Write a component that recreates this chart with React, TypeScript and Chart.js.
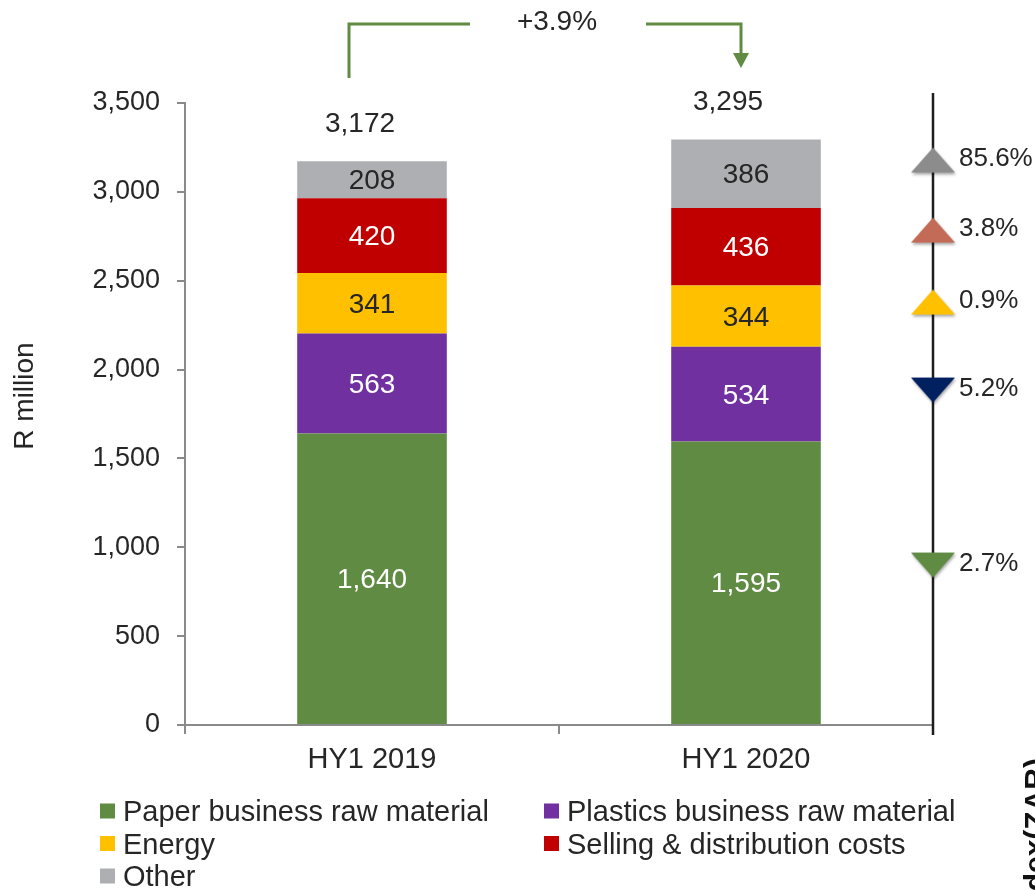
import React, { useEffect, useRef } from 'react';
import { Chart, registerables } from 'chart.js';

Chart.register(...registerables);

// ---------- data ----------
const CATEGORIES = ['HY1 2019', 'HY1 2020'];
const SERIES_NAMES = [
  'Paper business raw material',
  'Plastics business raw material',
  'Energy',
  'Selling & distribution costs',
  'Other',
];
const PAPER = [1640, 1595];
const PLASTICS = [563, 534];
const ENERGY = [341, 344];
const SELLING = [420, 436];
const OTHER = [208, 386];
const Y_MIN = 0;
const Y_MAX = 3500;
const Y_STEP = 500;
const Y_TITLE = 'R million';
const GROWTH_LABEL = '+3.9%';
const MARKER_LABELS = ['85.6%', '3.8%', '0.9%', '5.2%', '2.7%'];
const MARKER_VALUES = [3179, 2785, 2380, 1885, 900];
const MARKER_DIRECTIONS = ['up', 'up', 'up', 'down', 'down'];
const SIDE_TITLE = 'Index(ZAR)';

// ---------- styles ----------
const SERIES = [PAPER, PLASTICS, ENERGY, SELLING, OTHER];
const SERIES_COLORS = ['#5F8B43', '#7030A0', '#FFC000', '#C00000', '#ADAFB2'];
const LABEL_COLORS = ['#FFFFFF', '#FFFFFF', '#262626', '#FFFFFF', '#262626'];
const MARKER_COLORS = ['#8C8C8C', '#C36B56', '#FFC000', '#002060', '#5F8B43'];
const TOTAL_LABEL_DX = [-12, -18];
const TEXT = '#262626';
const AXIS = '#8A8A8A';
const FAMILY = '"Liberation Sans", Arial, Helvetica, sans-serif';
const font = (size: number, weight = 'normal') => `${weight} ${size}px ${FAMILY}`;
const fmt = (n: number) => n.toLocaleString('en-US');

function makeTriangle(color: string, dir: string) {
  const w = 44, h = 25, pad = 5;
  const c = document.createElement('canvas');
  c.width = w + pad * 2;
  c.height = h + pad * 2;
  const g = c.getContext('2d')!;
  g.shadowColor = 'rgba(0,0,0,0.35)';
  g.shadowBlur = 3;
  g.shadowOffsetX = 1;
  g.shadowOffsetY = 2;
  g.fillStyle = color;
  g.beginPath();
  if (dir === 'up') {
    g.moveTo(pad + w / 2, pad);
    g.lineTo(pad + w, pad + h);
    g.lineTo(pad, pad + h);
  } else {
    g.moveTo(pad, pad);
    g.lineTo(pad + w, pad);
    g.lineTo(pad + w / 2, pad + h);
  }
  g.closePath();
  g.fill();
  return c;
}

export default function App() {
  const ref = useRef<HTMLCanvasElement>(null);

  useEffect(() => {
    document.body.style.margin = '0';
    Chart.defaults.font.family = FAMILY;
    const canvas = ref.current!;

    const triangles = MARKER_COLORS.map((c, i) => makeTriangle(c, MARKER_DIRECTIONS[i]));

    const overlay = {
      id: 'overlay',
      beforeDatasetsDraw(chart: any) {
        const { ctx, chartArea } = chart;
        const x = chart.scales.x2.getPixelForValue(1.5);
        ctx.save();
        ctx.strokeStyle = '#1E1E1E';
        ctx.lineWidth = 2.5;
        ctx.beginPath();
        ctx.moveTo(x, chartArea.top - 10);
        ctx.lineTo(x, chartArea.bottom + 10);
        ctx.stroke();
        ctx.restore();
      },
      afterDatasetsDraw(chart: any) {
        const { ctx } = chart;
        ctx.save();
        ctx.textAlign = 'center';
        ctx.textBaseline = 'middle';
        ctx.font = font(28);
        // segment labels
        SERIES.forEach((vals, i) => {
          const meta = chart.getDatasetMeta(i);
          meta.data.forEach((el: any, j: number) => {
            const p = el.getProps(['x', 'y', 'base'], true);
            ctx.fillStyle = LABEL_COLORS[i];
            ctx.fillText(fmt(vals[j]), p.x, (p.y + p.base) / 2 + 2);
          });
        });
        // totals
        const yScale = chart.scales.y;
        const top0 = chart.getDatasetMeta(0).data;
        CATEGORIES.forEach((_, j) => {
          const total = SERIES.reduce((s, v) => s + v[j], 0);
          const yTop = yScale.getPixelForValue(total);
          ctx.fillStyle = TEXT;
          ctx.fillText(fmt(total), top0[j].x + TOTAL_LABEL_DX[j], yTop - 37);
        });
        // marker labels
        const mMeta = chart.getDatasetMeta(SERIES.length);
        ctx.textAlign = 'left';
        ctx.font = font(26);
        mMeta.data.forEach((el: any, k: number) => {
          ctx.fillStyle = TEXT;
          ctx.fillText(MARKER_LABELS[k], el.x + 26, el.y - 1);
        });
        ctx.restore();
      },
      afterDraw(chart: any) {
        const { ctx } = chart;
        const bars = chart.getDatasetMeta(0).data;
        const xL = bars[0].x - 23;
        const xR = bars[1].x - 5;
        const tc = (bars[0].x + bars[1].x) / 2 - 2;
        const yTop = 24;
        const GREEN = '#5F8B43';
        ctx.save();
        // bracket
        ctx.strokeStyle = GREEN;
        ctx.lineWidth = 3;
        ctx.beginPath();
        ctx.moveTo(xL, 78);
        ctx.lineTo(xL, yTop);
        ctx.lineTo(tc - 87, yTop);
        ctx.moveTo(tc + 89, yTop);
        ctx.lineTo(xR, yTop);
        ctx.lineTo(xR, 55);
        ctx.stroke();
        ctx.fillStyle = GREEN;
        ctx.beginPath();
        ctx.moveTo(xR - 8, 53);
        ctx.lineTo(xR + 8, 53);
        ctx.lineTo(xR, 68);
        ctx.closePath();
        ctx.fill();
        ctx.fillStyle = TEXT;
        ctx.font = font(28);
        ctx.textAlign = 'center';
        ctx.textBaseline = 'middle';
        ctx.fillText(GROWTH_LABEL, tc, 22);

        // y title
        ctx.save();
        ctx.translate(25, 396);
        ctx.rotate(-Math.PI / 2);
        ctx.fillText(Y_TITLE, 0, 0);
        ctx.restore();

        // legend
        const colX = [100, 544];
        const rowY = [811, 843.5, 876];
        ctx.textAlign = 'left';
        ctx.textBaseline = 'alphabetic';
        ctx.font = font(29);
        SERIES_NAMES.forEach((name, i) => {
          const cx = colX[i % 2];
          const cy = rowY[Math.floor(i / 2)];
          ctx.fillStyle = SERIES_COLORS[i];
          ctx.fillRect(cx, cy - 7.5, 15, 15);
          ctx.fillStyle = TEXT;
          ctx.fillText(name, cx + 23, cy + 10);
        });

        // side title (cut off at the edge)
        ctx.save();
        ctx.translate(1045, 758);
        ctx.rotate(-Math.PI / 2);
        ctx.textAlign = 'right';
        ctx.font = font(30, 'bold');
        ctx.fillStyle = '#111111';
        ctx.fillText(SIDE_TITLE, 0, 0);
        ctx.restore();

        ctx.restore();
      },
    };

    const datasets: any[] = SERIES.map((vals, i) => ({
      type: 'bar',
      label: SERIES_NAMES[i],
      data: vals,
      backgroundColor: SERIES_COLORS[i],
      xAxisID: 'x',
      yAxisID: 'y',
      stack: 'costs',
      grouped: false,
      categoryPercentage: 0.8,
      barPercentage: 0.5,
      borderWidth: 0,
    }));
    datasets.push({
      type: 'scatter',
      label: 'change',
      data: MARKER_VALUES.map((v) => ({ x: 1.5, y: v })),
      xAxisID: 'x2',
      yAxisID: 'y',
      stack: 'markers',
      pointStyle: triangles,
      pointRadius: 12,
      pointHoverRadius: 12,
      backgroundColor: MARKER_COLORS,
      borderWidth: 0,
      clip: false,
    });

    const chart = new Chart(canvas, {
      type: 'bar',
      data: { labels: CATEGORIES, datasets },
      options: {
        responsive: false,
        animation: false,
        events: [],
        layout: { padding: { left: 0, right: 102, top: 103, bottom: 0 } },
        plugins: { legend: { display: false }, tooltip: { enabled: false } },
        scales: {
          x: {
            type: 'category',
            stacked: true,
            offset: true,
            grid: {
              offset: true,
              drawOnChartArea: false,
              drawTicks: true,
              tickLength: 9,
              color: AXIS,
              lineWidth: 2,
            },
            border: { color: AXIS, width: 2 },
            ticks: { color: TEXT, font: { size: 29 }, padding: 9 },
            afterFit: (s: any) => {
              s.height = 165;
            },
          },
          x2: {
            type: 'linear',
            display: false,
            offset: false,
            grid: { offset: false },
            min: -0.5,
            max: 1.5,
          },
          y: {
            type: 'linear',
            stacked: true,
            min: Y_MIN,
            max: Y_MAX,
            ticks: {
              stepSize: Y_STEP,
              color: TEXT,
              font: { size: 27 },
              padding: 17,
              callback: (v: any) => fmt(Number(v)),
            },
            grid: {
              drawOnChartArea: false,
              drawTicks: true,
              tickLength: 8,
              color: AXIS,
              lineWidth: 2,
            },
            border: { color: AXIS, width: 2 },
            afterFit: (s: any) => {
              s.width = 185;
            },
          },
        },
      } as any,
      plugins: [overlay],
    });

    return () => chart.destroy();
  }, []);

  return (
    <div style={{ width: 1035, height: 890, background: '#ffffff' }}>
      <canvas ref={ref} width={1035} height={890} style={{ display: 'block' }} />
    </div>
  );
}
